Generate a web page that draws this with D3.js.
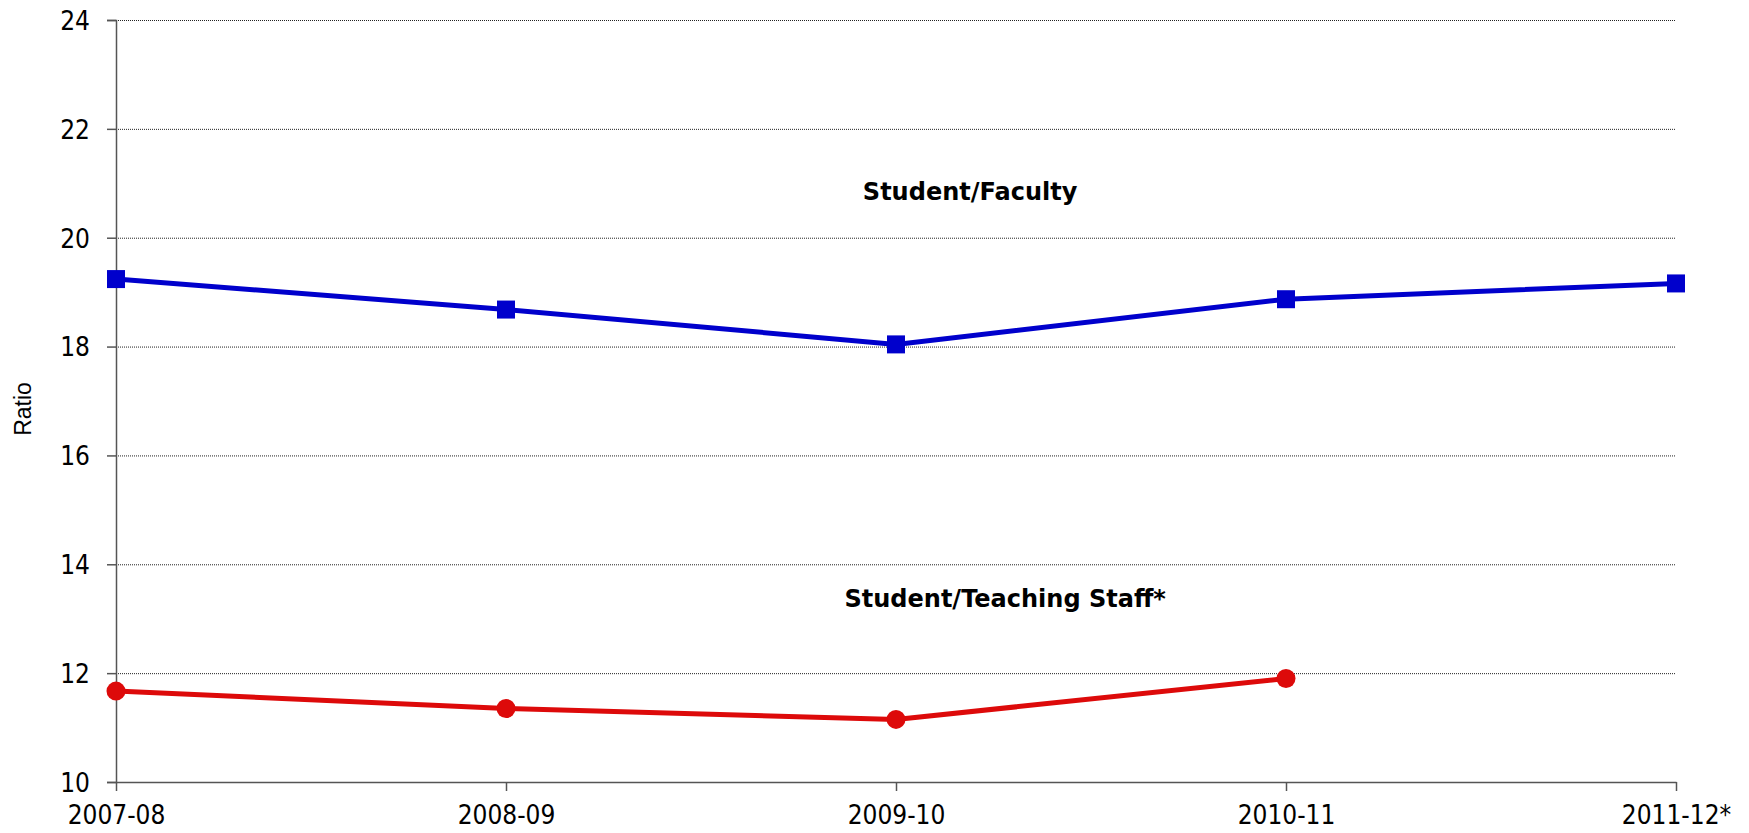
<!DOCTYPE html>
<html>
<head>
<meta charset="utf-8">
<script src="https://cdn.jsdelivr.net/npm/d3@7"></script>
<style>
  body { margin: 0; background: #fff; }
  svg { display: block; }
</style>
</head>
<body>
<svg id="drawing_region"></svg>
<script>
// data
const years = ["2007-08", "2008-09", "2009-10", "2010-11", "2011-12*"];
const studentFaculty = [19.24, 18.68, 18.04, 18.87, 19.16];
const studentTeaching = [11.67, 11.35, 11.15, 11.90, null];
const yTicks = [10, 12, 14, 16, 18, 20, 22, 24];
const seriesNames = ["Student/Faculty", "Student/Teaching Staff*"];

const width = 1749, height = 833;
const margin = {top: 20, right: 73, bottom: 51, left: 116};

const svg = d3.select('#drawing_region')
    .attr('width', width)
    .attr('height', height);

const x = d3.scalePoint()
    .domain(years)
    .range([margin.left, width - margin.right]);

const y = d3.scaleLinear()
    .domain([10, 24])
    .range([height - margin.bottom, margin.top]);

// gridlines
svg.append('g')
    .selectAll('line')
    .data(yTicks.filter(d => d > 10))
    .enter()
    .append('line')
    .attr('x1', margin.left)
    .attr('x2', width - margin.right)
    .attr('y1', d => y(d) + 0.5)
    .attr('y2', d => y(d) + 0.5)
    .attr('stroke', '#222')
    .attr('stroke-width', 1)
    .attr('stroke-dasharray', '1,1');

// y axis
const yAxis = svg.append('g')
    .attr('transform', `translate(${margin.left},0)`)
    .call(d3.axisLeft(y).tickValues(yTicks).tickSize(9).tickPadding(17).tickFormat(d3.format('d')));

// x axis
const xAxis = svg.append('g')
    .attr('transform', `translate(0,${height - margin.bottom})`)
    .call(d3.axisBottom(x).tickSize(9).tickPadding(14).tickSizeOuter(0));

[yAxis, xAxis].forEach(a => {
    a.select('.domain').attr('stroke', '#555').attr('stroke-width', 1.5);
    a.selectAll('.tick line').attr('stroke', '#555').attr('stroke-width', 1.5);
    a.selectAll('.tick text')
        .attr('fill', '#000')
        .style('font-family', '"DejaVu Sans Condensed", "DejaVu Sans", sans-serif')
        .style('font-size', '26px');
});
yAxis.selectAll('.tick text').attr('dy', '0.36em');
xAxis.selectAll('.tick text').attr('dy', '0.72em');

// y axis title
svg.append('text')
    .attr('transform', `translate(31,${(margin.top + height - margin.bottom) / 2 + 8}) rotate(-90)`)
    .attr('text-anchor', 'middle')
    .style('font-family', '"Liberation Sans", Arial, sans-serif')
    .style('font-size', '23px')
    .attr('fill', '#000')
    .text('Ratio');

// lines
const line = d3.line()
    .defined(d => d.v != null)
    .x(d => x(d.year))
    .y(d => y(d.v));

const faculty = years.map((yr, i) => ({year: yr, v: studentFaculty[i]}));
const teaching = years.map((yr, i) => ({year: yr, v: studentTeaching[i]}));

svg.append('path')
    .datum(faculty)
    .attr('d', line)
    .attr('fill', 'none')
    .attr('stroke', '#0000CC')
    .attr('stroke-width', 5);

svg.append('path')
    .datum(teaching)
    .attr('d', line)
    .attr('fill', 'none')
    .attr('stroke', '#DD0A0A')
    .attr('stroke-width', 5);

// markers
const sq = 18;
svg.append('g')
    .selectAll('rect')
    .data(faculty.filter(d => d.v != null))
    .enter()
    .append('rect')
    .attr('x', d => x(d.year) - sq / 2)
    .attr('y', d => y(d.v) - sq / 2)
    .attr('width', sq)
    .attr('height', sq)
    .attr('fill', '#0000CC');

svg.append('g')
    .selectAll('circle')
    .data(teaching.filter(d => d.v != null))
    .enter()
    .append('circle')
    .attr('cx', d => x(d.year))
    .attr('cy', d => y(d.v))
    .attr('r', 9.5)
    .attr('fill', '#DD0A0A');

// series labels
const step = x.step();
const labels = [
    {text: seriesNames[0], xi: 2.19, v: 20.69},
    {text: seriesNames[1], xi: 2.28, v: 13.21}
];
svg.append('g')
    .selectAll('text')
    .data(labels)
    .enter()
    .append('text')
    .attr('x', d => margin.left + d.xi * step)
    .attr('y', d => y(d.v))
    .attr('text-anchor', 'middle')
    .style('font-family', '"DejaVu Sans", sans-serif')
    .style('font-weight', 'bold')
    .style('font-size', '24px')
    .attr('fill', '#000')
    .text(d => d.text);
</script>
</body>
</html>
